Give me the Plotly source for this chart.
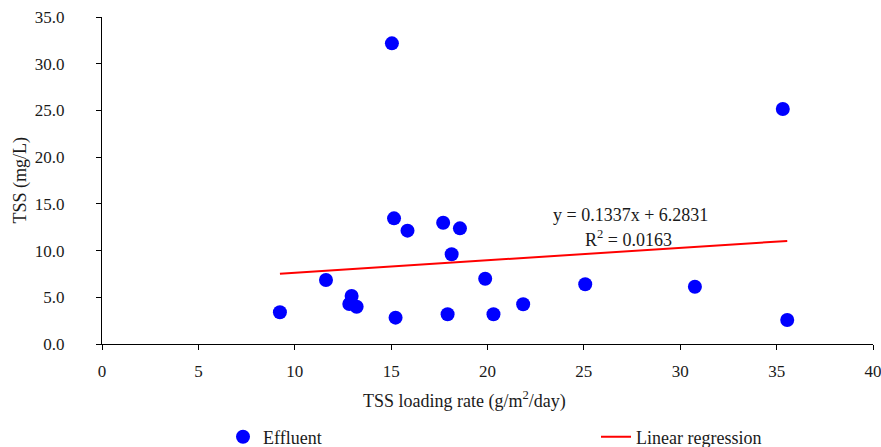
import plotly.graph_objects as go

# TSS loading rate (g/m2/day) and effluent TSS (mg/L)
loading_rate = [9.23, 11.62, 12.95, 12.83, 13.21, 15.04, 15.15, 15.85, 15.23, 17.70,
                18.57, 18.14, 17.93, 19.88, 20.31, 21.85, 25.07, 30.76, 35.32, 35.55]
effluent_tss = [3.40, 6.85, 5.14, 4.28, 3.99, 32.18, 13.45, 12.13, 2.82, 12.98,
                12.38, 9.60, 3.18, 6.99, 3.18, 4.25, 6.39, 6.13, 25.15, 2.57]

# Fitted regression coefficients
slope = 0.1337
intercept = 6.2831
r_squared = 0.0163

x_ticks = [0, 5, 10, 15, 20, 25, 30, 35, 40]
y_ticks = [0, 5, 10, 15, 20, 25, 30, 35]

FONT = "'Liberation Serif', 'Times New Roman', serif"
TEXT = "#1a1a1a"

x_fit = [min(loading_rate), max(loading_rate)]
y_fit = [slope * v + intercept for v in x_fit]

fig = go.Figure()
fig.add_trace(go.Scatter(
    x=loading_rate, y=effluent_tss, mode="markers", name="Effluent",
    marker=dict(color="#0000ff", size=14, line=dict(width=0)),
    legend="legend",
))
fig.add_trace(go.Scatter(
    x=x_fit, y=y_fit, mode="lines", name="Linear regression",
    line=dict(color="#ff0000", width=2),
    legend="legend2",
))

plot_w = 881 - 102 - 8
plot_h = 447 - 17 - 103

fig.update_layout(
    width=881, height=447,
    margin=dict(l=102, r=8, t=17, b=103, autoexpand=False),
    paper_bgcolor="white", plot_bgcolor="white",
    font=dict(family=FONT, size=17, color=TEXT),
    xaxis=dict(
        range=[0, 40], tickvals=x_ticks, ticktext=[str(v) for v in x_ticks],
        showline=True, linecolor="#000000", linewidth=1.2,
        ticks="outside", ticklen=5, tickwidth=1.2, tickcolor="#000000",
        showgrid=False, zeroline=False, ticklabelstandoff=6,
        ticklabeloverflow="allow",
        tickfont=dict(family=FONT, size=17, color=TEXT),
    ),
    yaxis=dict(
        range=[0, 35], tickvals=y_ticks, ticktext=[f"{v:.1f}" for v in y_ticks],
        showline=True, linecolor="#000000", linewidth=1.2,
        ticks="outside", ticklen=5, tickwidth=1.2, tickcolor="#000000",
        showgrid=False, zeroline=False, ticklabelstandoff=28,
        ticklabeloverflow="allow",
        tickfont=dict(family=FONT, size=17, color=TEXT),
    ),
    legend=dict(x=(243 - 20 - 102) / plot_w, y=-(437 - 344) / plot_h,
                xanchor="left", yanchor="middle", orientation="h",
                font=dict(family=FONT, size=18, color=TEXT), bgcolor="rgba(0,0,0,0)"),
    legend2=dict(x=(636 - 40 - 102) / plot_w, y=-(437 - 344) / plot_h,
                 xanchor="left", yanchor="middle", orientation="h",
                 font=dict(family=FONT, size=18, color=TEXT), bgcolor="rgba(0,0,0,0)"),
    showlegend=True,
)

fig.add_annotation(
    x=(464 - 102) / plot_w, y=-(400 - 344) / plot_h, xref="paper", yref="paper",
    text="TSS loading rate (g/m<sup>2</sup>/day)", showarrow=False,
    font=dict(family=FONT, size=18, color=TEXT), xanchor="center", yanchor="middle",
)
fig.add_annotation(
    x=-(102 - 20) / plot_w, y=0.5, xref="paper", yref="paper",
    text="TSS (mg/L)", textangle=-90, showarrow=False,
    font=dict(family=FONT, size=18, color=TEXT), xanchor="center", yanchor="middle",
)
fig.add_annotation(
    x=(630 - 102) / plot_w, y=(344 - 215) / plot_h, xref="paper", yref="paper",
    text=f"y = {slope:.4f}x + {intercept:.4f}", showarrow=False,
    font=dict(family=FONT, size=18, color=TEXT), xanchor="center", yanchor="middle",
)
fig.add_annotation(
    x=(628 - 102) / plot_w, y=(344 - 238) / plot_h, xref="paper", yref="paper",
    text=f"R<sup>2</sup> = {r_squared:.4f}", showarrow=False,
    font=dict(family=FONT, size=18, color=TEXT), xanchor="center", yanchor="middle",
)

fig.write_html("out.html")
